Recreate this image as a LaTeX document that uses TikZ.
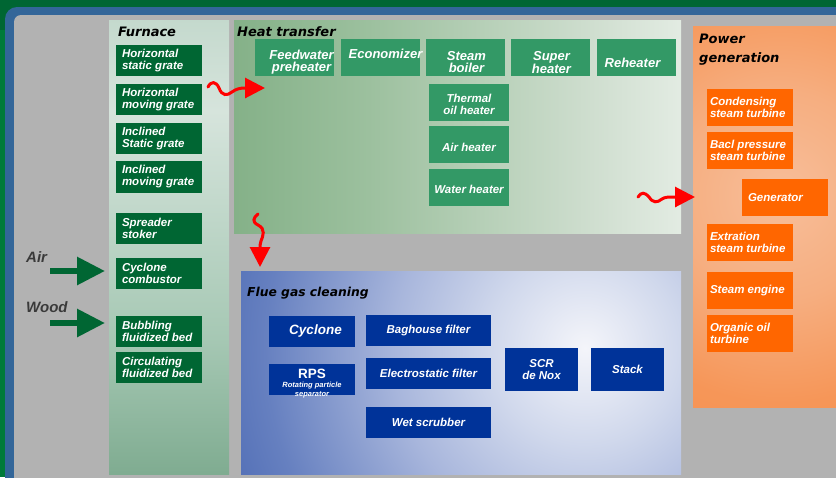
\documentclass[tikz,border=0pt]{standalone}
\usepackage{fontspec}
\setmainfont{Liberation Sans}
\newfontfamily\titlefont{DejaVu Sans}
\usetikzlibrary{arrows.meta}
\definecolor{bggreen}{HTML}{006633}
\definecolor{bggreenB}{HTML}{007A3A}
\definecolor{frameblue}{HTML}{336699}
\definecolor{bggray}{HTML}{B2B2B2}
\definecolor{furgreen}{HTML}{006633}
\definecolor{htgreen}{HTML}{339966}
\definecolor{pworange}{HTML}{FF6600}
\definecolor{flueblue}{HTML}{003399}
\definecolor{labelgray}{HTML}{3A3A3A}
\definecolor{redarrow}{HTML}{FF0000}
\definecolor{fur0}{HTML}{3F7D56}
\definecolor{fur1}{HTML}{A6C8B4}
\definecolor{fur2}{HTML}{D6E4DC}
\definecolor{fur3}{HTML}{98BEA8}
\definecolor{ht0}{HTML}{5E9864}
\definecolor{ht1}{HTML}{9CC09E}
\definecolor{ht2}{HTML}{CFDECF}
\definecolor{ht3}{HTML}{F0F5F0}
\definecolor{pw0}{HTML}{F7BE9A}
\definecolor{pw1}{HTML}{F6AE80}
\definecolor{pw2}{HTML}{F69658}
\definecolor{pw3}{HTML}{F5873E}
\definecolor{fl0}{HTML}{F4F5FA}
\definecolor{fl1}{HTML}{D0D8EC}
\definecolor{fl2}{HTML}{A8B6DC}
\definecolor{fl3}{HTML}{6680C0}
\definecolor{fl4}{HTML}{3556A8}
\definecolor{fl5}{HTML}{1E3F9A}
\pgfdeclareverticalshading{furshade}{100bp}{color(0bp)=(fur0); color(40bp)=(fur1); color(65bp)=(fur2); color(100bp)=(fur3)}
\pgfdeclarehorizontalshading{heatshade}{100bp}{color(0bp)=(ht0); color(40bp)=(ht1); color(65bp)=(ht2); color(82bp)=(ht3); color(100bp)=(white)}
\pgfdeclareradialshading{powshade}{\pgfpoint{0bp}{0bp}}{color(0bp)=(pw0); color(10bp)=(pw1); color(20bp)=(pw2); color(50bp)=(pw3)}
\pgfdeclareradialshading{flueshade}{\pgfpoint{0bp}{0bp}}{color(0bp)=(fl0); color(6bp)=(fl1); color(12bp)=(fl2); color(20bp)=(fl3); color(29bp)=(fl4); color(50bp)=(fl5)}
\tikzset{
  boxbase/.style={rectangle, inner sep=0pt, text=white, font=\bfseries\itshape\fontsize{11.5}{12}\selectfont},
  furbox/.style={boxbase, fill=furgreen, minimum width=86pt, minimum height=31pt, text width=74pt, inner xsep=6pt, align=flush left},
  htbox/.style={boxbase, fill=htgreen, minimum width=79pt, minimum height=37pt},
  htcol/.style={boxbase, fill=htgreen, minimum width=80pt, minimum height=37pt},
  httext/.style={text=white, inner sep=0pt, align=center, font=\bfseries\itshape\fontsize{13}{12}\selectfont},
  htsmall/.style={text=white, inner sep=0pt, align=center, font=\bfseries\itshape\fontsize{11.5}{12}\selectfont},
  pwbox/.style={boxbase, fill=pworange, minimum width=86pt, minimum height=37pt, text width=80pt, inner xsep=3pt, align=flush left},
  flbox/.style={boxbase, fill=flueblue, align=center},
  paneltitle/.style={inner sep=0pt, anchor=west, text=black, font=\titlefont\bfseries\itshape\fontsize{13}{19}\selectfont},
  sidelabel/.style={inner sep=0pt, anchor=west, text=labelgray, font=\bfseries\itshape\fontsize{15}{15}\selectfont},
  feedarrow/.style={draw=furgreen, line width=6pt, -{Triangle[length=28pt,width=27pt]}},
  heatarrow/.style={draw=redarrow, line width=3pt, line cap=round, -{Triangle[length=20pt,width=20pt]}}
}
\begin{document}
\begin{tikzpicture}[x=1pt,y=-1pt]
\useasboundingbox (0,0) rectangle (836,477);
% background
\fill[bggreen] (0,0) rectangle (836,477);
\fill[bggreenB] (0,30) rectangle (6,477);
\fill[frameblue, rounded corners=12pt] (5,7) rectangle (860,500);
\fill[bggray, rounded corners=7pt] (14,15) rectangle (860,500);
% panels
\shade[shading=furshade] (109,20) rectangle (229,474);
\shade[shading=heatshade] (234,20) rectangle (681,233);
\begin{scope}
  \clip (693,26) rectangle (836,407);
  \shade[shading=powshade] (780,195) circle (260);
\end{scope}
\begin{scope}
  \clip (241,271) rectangle (681,474);
  \shade[shading=flueshade] (585,348) circle (400);
\end{scope}
% titles
\node[paneltitle] (tfur) at (118,32) {Furnace};
\node[paneltitle] (theat) at (237,32) {Heat transfer};
\node[paneltitle, align=left] (tpow) at (699,50) {Power\\generation};
\node[paneltitle, font=\titlefont\bfseries\itshape\fontsize{12.3}{14}\selectfont] (tflue) at (247,293) {Flue gas cleaning};
% furnace boxes
\node[furbox] (f1) at (159,60.5) {Horizontal\\static grate};
\node[furbox] (f2) at (159,99.5) {Horizontal\\moving grate};
\node[furbox] (f3) at (159,138.5) {Inclined\\Static grate};
\node[furbox, minimum height=32pt] (f4) at (159,177) {Inclined\\moving grate};
\node[furbox] (f5) at (159,228.5) {Spreader\\stoker};
\node[furbox] (f6) at (159,273.5) {Cyclone\\combustor};
\node[furbox] (f7) at (159,331.5) {Bubbling\\fluidized bed};
\node[furbox] (f8) at (159,367.5) {Circulating\\fluidized bed};
% air / wood
\node[sidelabel] (air) at (26,257) {Air};
\node[sidelabel] (wood) at (26,307) {Wood};
\coordinate (airA) at (50,271);
\coordinate (airB) at (105,271);
\coordinate (woodA) at (50,323);
\coordinate (woodB) at (105,323);
\draw[feedarrow] (airA) -- (airB);
\draw[feedarrow] (woodA) -- (woodB);
% heat transfer boxes
\node[htbox, label={[httext, xshift=7pt, yshift=-5pt]center:{Feedwater\\preheater}}] (h1) at (294.5,57.5) {};
\node[htbox, label={[httext, xshift=5pt, yshift=4pt]center:{Economizer}}] (h2) at (380.5,57.5) {};
\node[htbox, label={[httext, xshift=1pt, yshift=-5pt]center:{Steam\\boiler}}] (h3) at (465.5,57.5) {};
\node[htbox, label={[httext, xshift=1pt, yshift=-5pt]center:{Super\\heater}}] (h4) at (550.5,57.5) {};
\node[htbox, label={[httext, xshift=-4pt, yshift=-5pt]center:{Reheater}}] (h5) at (636.5,57.5) {};
\node[htcol, label={[htsmall, yshift=-1.5pt]center:{Thermal\\oil heater}}] (h6) at (469,102.5) {};
\node[htcol, label={[htsmall, yshift=-2.5pt]center:{Air heater}}] (h7) at (469,144.5) {};
\node[htcol, label={[htsmall, yshift=-1.5pt]center:{Water heater}}] (h8) at (469,187.5) {};
% power generation boxes
\node[pwbox] (p1) at (750,107.5) {Condensing\\steam turbine};
\node[pwbox] (p2) at (750,150.5) {Bacl pressure\\steam turbine};
\node[pwbox] (p3) at (785,197.5) {\hspace*{3pt}Generator};
\node[pwbox] (p4) at (750,242.5) {Extration\\steam turbine};
\node[pwbox] (p5) at (750,290.5) {Steam engine};
\node[pwbox] (p6) at (750,333.5) {Organic oil\\turbine};
% flue gas boxes
\node[flbox, minimum width=86pt, minimum height=31pt, font=\bfseries\itshape\fontsize{13.5}{13}\selectfont] (c1) at (312,331.5) {\hspace*{7pt}Cyclone};
\node[flbox, minimum width=86pt, minimum height=31pt, label={[text=white, inner sep=0pt, align=center, yshift=-4pt]center:{\bfseries\fontsize{13.5}{9}\selectfont RPS\\[-3.5pt]\bfseries\itshape\fontsize{7.5}{8}\selectfont Rotating particle\\[-3pt]\bfseries\itshape\fontsize{7.5}{8}\selectfont separator}}] (c2) at (312,379.5) {};
\node[flbox, minimum width=125pt, minimum height=31pt] (c3) at (428.5,330.5) {Baghouse filter};
\node[flbox, minimum width=125pt, minimum height=31pt] (c4) at (428.5,373.5) {Electrostatic filter};
\node[flbox, minimum width=125pt, minimum height=31pt] (c5) at (428.5,422.5) {Wet scrubber};
\node[flbox, minimum width=73pt, minimum height=43pt] (c6) at (541.5,369.5) {SCR\\de Nox};
\node[flbox, minimum width=73pt, minimum height=43pt] (c7) at (627.5,369.5) {Stack};
% red squiggly arrows
\coordinate (r1s) at (208,87);
\coordinate (r1e) at (265,88);
\draw[heatarrow] (r1s) .. controls (211,81) and (216,81) .. (219,88) .. controls (222,96) and (227,96) .. (232,92) .. controls (236,89) and (240,88) .. (245,88) -- (r1e);
\coordinate (r2s) at (258,214);
\coordinate (r2e) at (260,267);
\draw[heatarrow] (r2s) .. controls (253,218) and (252,222) .. (258,225) .. controls (266,229) and (263,236) .. (261,241) .. controls (260,244) and (260,246) .. (260,248) -- (r2e);
\coordinate (r3s) at (638,197);
\coordinate (r3e) at (695,197);
\draw[heatarrow] (r3s) .. controls (641,192) and (645,192) .. (649,197) .. controls (653,203) and (657,203) .. (662,199) .. controls (665,197) and (668,197) .. (675,197) -- (r3e);
\end{tikzpicture}
\end{document}
